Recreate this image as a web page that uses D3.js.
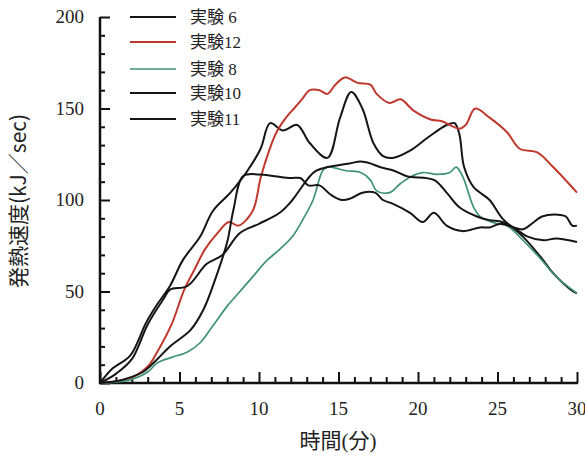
<!DOCTYPE html>
<html>
<head>
<meta charset="utf-8">
<script src="https://cdn.jsdelivr.net/npm/d3@7.9.0/dist/d3.min.js"></script>
<style>
  body { margin: 0; background: #fff; }
  svg { display: block; }
</style>
</head>
<body>
<svg id="chart" width="585" height="457"></svg>
<script>
// data: [minutes, kJ/sec]
const exp6 = [[0,0],[0.8,8],[1.9,15],[2.9,33],[3.6,43],[4.4,53],[5.2,67],[6.3,80],[7.1,94],[8.2,104],
  [9.2,115],[10.1,128],[10.7,142],[11.5,138],[12.4,141],[13.2,131],[14.3,123],[15.1,145],[15.8,159],
  [16.5,150],[17.2,131],[17.8,124],[18.4,123],[19.5,127],[20.6,134],[21.8,141],[22.3,142],[22.6,136],
  [22.9,118],[23.5,107],[24.5,100],[25.3,90],[26.6,80],[27.7,69],[28.5,60],[29.6,51],[30,49]];
const exp12 = [[0,0],[1,1],[2,3],[3,9],[3.6,17],[4.5,32],[5.3,51],[6,63],[6.6,73],[7.4,82],[8.1,88],
  [8.7,86],[9.6,94],[10.1,112],[10.6,126],[11.1,137],[11.7,145],[12.2,150],[12.7,155],[13.2,160],
  [13.8,160],[14.3,158],[14.8,163],[15.4,167],[16.2,164],[17,163],[17.4,158],[18.2,153],[18.9,155],
  [19.7,149],[20.8,144],[21.5,143],[22,141],[22.6,139],[23,141],[23.6,150],[24.5,145],[25.6,137],
  [26.4,128],[27.5,126],[28.5,118],[30,104]];
const exp8 = [[0,0],[1,0.5],[2,2],[3,6],[3.6,11],[4.5,14],[5.5,17],[6.3,22],[7,30],[8,42],[8.8,50],
  [9.6,58],[10.5,67],[11.3,73],[12.1,80],[12.8,90],[13.4,100],[14,116],[14.3,118],[15.5,116],
  [16.4,115],[17,111],[17.4,105],[18.2,104],[18.9,109],[19.6,113],[20.3,115],[21.2,114],[22,115],
  [22.4,118],[22.8,113],[23.5,96],[23.9,91],[25,87],[25.6,86],[26.6,78],[27.7,68],[28.7,58],[30,49]];
const exp10 = [[0,0],[1,1],[1.5,2],[2.7,6],[3.6,13],[4.4,20],[5.7,29],[6.5,40],[7.3,58],[8,77],
  [8.4,95],[9,113],[10,114],[11,113],[12,112],[12.6,112],[13.1,108],[13.8,108],[14.5,103],[15.2,100],
  [15.8,101],[16.5,104],[17.3,104],[17.8,100],[18.4,98],[19.5,93],[20.3,88],[21,93],[21.8,86],
  [22.8,83],[23.9,85],[24.5,85],[25.2,87],[26,85],[26.6,84],[27.3,88],[27.8,91],[28.8,92],[29.3,91],
  [29.7,86],[30,86]];
const exp11 = [[0,0],[1,5],[2,13],[3,32],[4,46],[4.4,51],[5.5,53],[6.7,65],[7.7,70],[8.8,82],[10,87],
  [11.3,93],[12.1,100],[12.6,106],[13.2,113],[13.6,116],[14.3,118],[15,119],[15.7,120],[16.4,121],
  [17,120],[17.6,118],[18.5,116],[19.3,113],[21,111],[21.8,104],[22.6,96],[23.7,91],[24.5,89],
  [25.3,88],[26,85],[26.9,80],[27.9,78],[28.7,79],[30,77]];

const seriesNames = ["実験 6", "実験12", "実験 8", "実験10", "実験11"];
const seriesData = [exp6, exp12, exp8, exp10, exp11];
const seriesColors = ["#151515", "#c0392e", "#3f9274", "#151515", "#151515"];

const xTicks = [0, 5, 10, 15, 20, 25, 30];
const yTicks = [0, 50, 100, 150, 200];

const serif = "'Liberation Serif', 'Times New Roman', 'DejaVu Serif', serif";
const jpFont = "'Liberation Serif', 'Noto Sans CJK JP', serif";
const jpSans = "'Noto Sans CJK JP', sans-serif";

const svg = d3.select("#chart");
const x = d3.scaleLinear().domain([0, 30]).range([100, 577]);
const y = d3.scaleLinear().domain([0, 200]).range([383, 17]);

// axes: ticks point inward
const yAxis = d3.axisRight(y).tickValues(d3.range(0, 201, 10)).tickSize(0).tickFormat("");
const gy = svg.append("g").attr("transform", `translate(${x(0)},0)`).call(yAxis);
gy.select(".domain").remove();
gy.selectAll(".tick line")
  .attr("x2", d => d % 50 === 0 ? 10 : 5)
  .attr("stroke", "#111").attr("stroke-width", 2);

const xAxis = d3.axisTop(x).tickValues(d3.range(0, 31, 1)).tickSize(0).tickFormat("");
const gx = svg.append("g").attr("transform", `translate(0,${y(0)})`).call(xAxis);
gx.select(".domain").remove();
gx.selectAll(".tick line")
  .attr("y2", d => d % 5 === 0 ? -11 : -6)
  .attr("stroke", "#111").attr("stroke-width", 2);

svg.append("line").attr("x1", x(0)).attr("x2", x(0)).attr("y1", y(200)).attr("y2", y(0) + 1)
  .attr("stroke", "#111").attr("stroke-width", 2.5);
svg.append("line").attr("x1", x(0) - 1).attr("x2", x(30) + 1).attr("y1", y(0)).attr("y2", y(0))
  .attr("stroke", "#111").attr("stroke-width", 2.5);

svg.selectAll(".ylab").data(yTicks).join("text")
  .attr("font-family", serif).attr("font-size", 19).attr("fill", "#222")
  .attr("text-anchor", "end")
  .attr("x", 84).attr("y", d => y(d) + 6).text(d => d);
svg.selectAll(".xlab").data(xTicks).join("text")
  .attr("font-family", serif).attr("font-size", 19).attr("fill", "#222")
  .attr("text-anchor", "middle")
  .attr("x", d => x(d)).attr("y", 415).text(d => d);

svg.append("text").attr("font-family", jpFont).attr("font-size", 21).attr("fill", "#222")
  .attr("text-anchor", "middle")
  .attr("x", 338).attr("y", 448).text("時間(分)");
svg.append("text").attr("font-family", jpSans).attr("font-size", 21).attr("fill", "#222")
  .attr("text-anchor", "middle")
  .attr("transform", "translate(26,201) rotate(-90)")
  .text("発熱速度(kJ／sec)");

const line = d3.line().x(d => x(d[0])).y(d => y(d[1])).curve(d3.curveCatmullRom.alpha(0.5));
svg.selectAll(".series").data(seriesData).join("path")
  .attr("fill", "none")
  .attr("stroke", (d, i) => seriesColors[i])
  .attr("stroke-width", (d, i) => i === 2 ? 1.7 : 2)
  .attr("stroke-linejoin", "round")
  .attr("d", line);

// legend
const legendY = [17, 42, 69, 93, 119];
const lg = svg.append("g");
seriesNames.forEach((name, i) => {
  lg.append("line").attr("x1", 130).attr("x2", 176).attr("y1", legendY[i]).attr("y2", legendY[i])
    .attr("stroke", seriesColors[i]).attr("stroke-width", i === 2 ? 1.4 : 2);
  lg.append("text").attr("font-family", jpFont).attr("font-size", 17).attr("fill", "#222")
    .attr("x", 190).attr("y", legendY[i] + 6).text(name);
});
</script>
</body>
</html>
